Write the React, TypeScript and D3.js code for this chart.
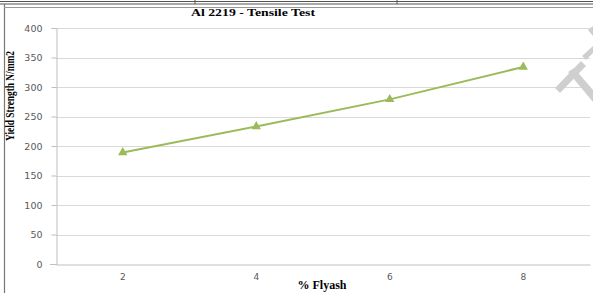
import React, { useRef, useEffect } from 'react';
import * as d3 from 'd3';

// data
const flyash = ['2', '4', '6', '8'];
const yieldStrength = [189, 233, 279, 334];
const yTicks = [0, 50, 100, 150, 200, 250, 300, 350, 400];

const W = 593;
const H = 293;

const App = () => {
  const svgRef = useRef<SVGSVGElement>(null);

  useEffect(() => {
    const svg = d3.select(svgRef.current);
    svg.selectAll('*').remove();

    /* plot area */
    const left = 56, right = 590, top = 28, bottom = 264;
    const x = d3.scaleBand<string>().domain(flyash).range([left, right]);
    const y = d3.scaleLinear().domain([0, 400]).range([bottom, top]);

    svg.append('rect').attr('width', W).attr('height', H).attr('fill', '#fff');

    // page borders (table lines around the figure)
    svg.append('line').attr('x1', 0).attr('x2', W).attr('y1', 1.5).attr('y2', 1.5).attr('stroke', '#555').attr('stroke-width', 1);
    svg.append('line').attr('x1', 0).attr('x2', W).attr('y1', 4).attr('y2', 4).attr('stroke', '#555').attr('stroke-width', 1.2);
    [195, 397].forEach(px => {
      svg.append('line').attr('x1', px).attr('x2', px).attr('y1', 0).attr('y2', 4).attr('stroke', '#555');
    });
    svg.append('line').attr('x1', 4.5).attr('x2', 4.5).attr('y1', 4).attr('y2', H).attr('stroke', '#777').attr('stroke-width', 1.2);
    svg.append('line').attr('x1', 4).attr('x2', W).attr('y1', 7.5).attr('y2', 7.5).attr('stroke', '#999');

    // gridlines
    svg.append('g').selectAll('line').data(yTicks.filter(d => d > 0)).join('line')
      .attr('x1', left).attr('x2', right)
      .attr('y1', d => Math.round(y(d)) + 0.5).attr('y2', d => Math.round(y(d)) + 0.5)
      .attr('stroke', '#d9d9d9');

    // y axis
    const yAxis = d3.axisLeft(y).tickValues(yTicks).tickSize(5).tickPadding(9);
    const gy = svg.append('g').attr('transform', `translate(${left + 0.5},0)`).call(yAxis);
    gy.select('.domain').attr('stroke', '#bfbfbf');
    gy.selectAll('.tick line').attr('stroke', '#bfbfbf');
    gy.selectAll('.tick text').attr('fill', '#595959').attr('font-family', 'Verdana, DejaVu Sans, sans-serif').attr('font-size', 9.5);

    // x axis
    const xAxis = d3.axisBottom(x).tickSize(0).tickPadding(9);
    const gx = svg.append('g').attr('transform', `translate(0,${bottom + 0.5})`).call(xAxis);
    gx.select('.domain').attr('stroke', '#bfbfbf');
    gx.selectAll('.tick text').attr('fill', '#595959').attr('font-family', 'Verdana, DejaVu Sans, sans-serif').attr('font-size', 9);
    svg.append('line').attr('x1', left - 6).attr('x2', left).attr('y1', bottom + 0.5).attr('y2', bottom + 0.5).attr('stroke', '#bfbfbf');

    // series
    const pts = flyash.map((c, i) => [x(c)! + x.bandwidth() / 2, y(yieldStrength[i])] as [number, number]);
    svg.append('path').attr('d', d3.line()(pts)).attr('fill', 'none').attr('stroke', '#9bbb59').attr('stroke-width', 2);
    svg.append('g').selectAll('path').data(pts).join('path')
      .attr('d', d3.symbol(d3.symbolTriangle, 38)())
      .attr('transform', d => `translate(${d[0]},${d[1]})`)
      .attr('fill', '#9bbb59');

    // titles
    svg.append('text').attr('x', 253).attr('y', 16).attr('text-anchor', 'middle')
      .attr('font-family', 'Liberation Serif, serif').attr('font-weight', 'bold').attr('font-size', 10)
      .attr('textLength', 124).attr('lengthAdjust', 'spacingAndGlyphs')
      .text('Al 2219 - Tensile Test');
    svg.append('text').attr('transform', 'translate(14,96) rotate(-90)').attr('text-anchor', 'middle')
      .attr('font-family', 'Liberation Serif, serif').attr('font-weight', 'bold').attr('font-size', 12)
      .attr('textLength', 90).attr('lengthAdjust', 'spacingAndGlyphs')
      .text('Yield Strength N/mm2');
    svg.append('text').attr('x', 322).attr('y', 289).attr('text-anchor', 'middle')
      .attr('font-family', 'Liberation Serif, serif').attr('font-weight', 'bold').attr('font-size', 12)
      .text('% Flyash');

    // watermark in the corner
    const wm = svg.append('g').attr('fill', '#cfcfcf');
    wm.append('polygon').attr('points', '555,88 560,93 586,66 581,61');
    wm.append('polygon').attr('points', '568,72 574,68 593,90 593,102');
    wm.append('polygon').attr('points', '582,56 586,60 593,53 593,46');
    wm.append('polygon').attr('points', '588,30 593,26 593,36');
  }, []);

  return <svg ref={svgRef} width={W} height={H} style={{ position: 'absolute', left: 0, top: 0 }} />;
};

export default App;
